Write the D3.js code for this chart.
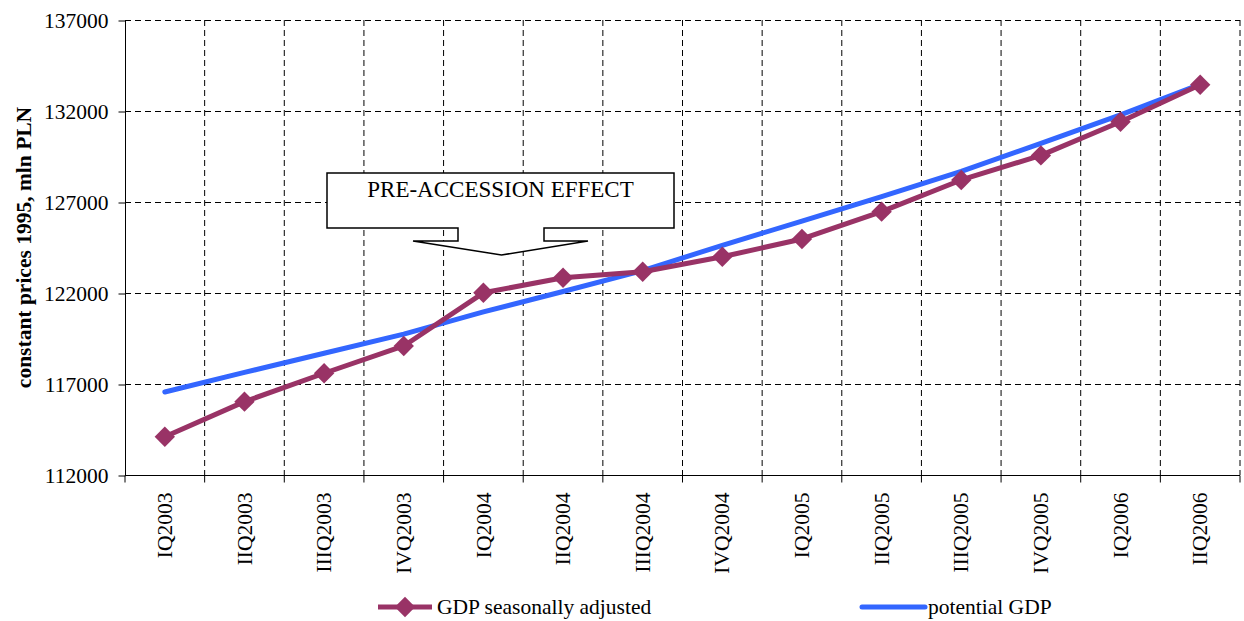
<!DOCTYPE html>
<html>
<head>
<meta charset="utf-8">
<script src="https://cdn.jsdelivr.net/npm/d3@7"></script>
<style>
  html, body { margin: 0; padding: 0; background: #fff; }
  svg { display: block; font-family: "Liberation Serif", "Times New Roman", serif; }
</style>
</head>
<body>
<svg id="chart" width="1244" height="621"></svg>
<script>
// Quarterly GDP, constant prices 1995, mln PLN
const quarters = ["IQ2003", "IIQ2003", "IIIQ2003", "IVQ2003",
                  "IQ2004", "IIQ2004", "IIIQ2004", "IVQ2004",
                  "IQ2005", "IIQ2005", "IIIQ2005", "IVQ2005",
                  "IQ2006", "IIQ2006"];
const gdpSA = [114100, 116030, 117590, 119090,
               122010, 122840, 123170, 123990,
               124970, 126470, 128210, 129560,
               131410, 133445];
const potentialGdp = [116560, 117640, 118690, 119740,
                      120960, 122080, 123230, 124620,
                      125950, 127290, 128680, 130220,
                      131790, 133460];
const yTicks = [112000, 117000, 122000, 127000, 132000, 137000];
const seriesNames = ["GDP seasonally adjusted", "potential GDP"];
const calloutText = "PRE-ACCESSION EFFECT";
const yTitle = "constant prices 1995, mln PLN";

const colGdp = "#993366";
const colPot = "#3366ff";
const fontSize = 21.5;

const svg = d3.select("#chart");
const plot = { left: 125, right: 1240, top: 20, bottom: 475 };

const x = d3.scaleBand().domain(quarters).range([plot.left, plot.right]).padding(0);
const y = d3.scaleLinear().domain([112000, 137000]).range([plot.bottom, plot.top]);
const cx = q => x(q) + x.bandwidth() / 2;

// Dashed grid: horizontal at each value tick, vertical at each category boundary
const grid = svg.append("g").attr("stroke", "#000").attr("stroke-width", 1)
  .attr("stroke-dasharray", "6,4").attr("fill", "none");
yTicks.filter(v => v > 112000).forEach(v => {
  grid.append("line").attr("x1", plot.left).attr("x2", plot.right)
    .attr("y1", Math.round(y(v)) + 0.5).attr("y2", Math.round(y(v)) + 0.5);
});
quarters.forEach(q => {
  const xb = x(q) + x.bandwidth();
  grid.append("line").attr("x1", xb).attr("x2", xb)
    .attr("y1", plot.top).attr("y2", plot.bottom);
});

// Value axis
const yAxis = d3.axisLeft(y).tickValues(yTicks).tickSize(7).tickPadding(10)
  .tickFormat(d3.format("d"));
const gy = svg.append("g").attr("transform", `translate(${plot.left + 0.5},0.5)`).call(yAxis);
gy.select(".domain").attr("stroke", "#000").attr("d", `M0,${plot.top}V${plot.bottom}`);
gy.selectAll(".tick line").attr("stroke", "#000");
gy.selectAll(".tick text").attr("font-size", fontSize).attr("fill", "#000")
  .attr("font-family", "Liberation Serif");

// Category axis with ticks on band boundaries
const gx = svg.append("g").attr("transform", `translate(0,${plot.bottom + 0.5})`);
gx.append("line").attr("x1", plot.left).attr("x2", plot.right)
  .attr("stroke", "#000");
const boundaries = [plot.left].concat(quarters.map(q => x(q) + x.bandwidth()));
gx.selectAll("line.tk").data(boundaries).join("line").attr("class", "tk")
  .attr("x1", d => d).attr("x2", d => d).attr("y1", 0).attr("y2", 7)
  .attr("stroke", "#000");
gx.selectAll("text").data(quarters).join("text")
  .attr("transform", d => `translate(${cx(d)},17) rotate(-90)`)
  .attr("text-anchor", "end").attr("dy", "0.33em")
  .attr("font-size", fontSize).text(d => d);

// Axis title
svg.append("text")
  .attr("transform", `translate(24,${(plot.top + plot.bottom) / 2}) rotate(-90)`)
  .attr("text-anchor", "middle").attr("dy", "0.33em")
  .attr("font-size", fontSize).attr("font-weight", "bold").text(yTitle);

// Series lines
const line = d3.line().x((d, i) => cx(quarters[i])).y(d => y(d));
svg.append("path").datum(potentialGdp).attr("d", line)
  .attr("fill", "none").attr("stroke", colPot).attr("stroke-width", 5)
  .attr("stroke-linecap", "round").attr("stroke-linejoin", "round");
svg.append("path").datum(gdpSA).attr("d", line)
  .attr("fill", "none").attr("stroke", colGdp).attr("stroke-width", 5)
  .attr("stroke-linejoin", "round");

const diamond = d3.symbol().type(d3.symbolDiamond2).size(265);
svg.append("g").selectAll("path").data(gdpSA).join("path")
  .attr("d", diamond)
  .attr("transform", (d, i) => `translate(${cx(quarters[i])},${y(d)}) rotate(0)`)
  .attr("fill", colGdp);

// Down-arrow callout
const box = { x0: 327, x1: 674, y0: 173, y1: 228 };
const notch = { l: 458, r: 544, wingY: 241, wl: 413, wr: 588, tipX: 501.5, tipY: 255 };
const callout = d3.path();
callout.moveTo(box.x0, box.y0);
callout.lineTo(box.x1, box.y0);
callout.lineTo(box.x1, box.y1);
callout.lineTo(notch.r, box.y1);
callout.lineTo(notch.r, notch.wingY);
callout.lineTo(notch.wr, notch.wingY);
callout.lineTo(notch.tipX, notch.tipY);
callout.lineTo(notch.wl, notch.wingY);
callout.lineTo(notch.l, notch.wingY);
callout.lineTo(notch.l, box.y1);
callout.lineTo(box.x0, box.y1);
callout.closePath();
svg.append("path").attr("d", callout.toString())
  .attr("fill", "#fff").attr("stroke", "#000").attr("stroke-width", 1.5)
  .attr("stroke-linejoin", "miter");
svg.append("text").attr("x", (box.x0 + box.x1) / 2).attr("y", 197)
  .attr("text-anchor", "middle").attr("font-size", 23).text(calloutText);

// Legend
const lg = svg.append("g").attr("font-size", fontSize);
const legY = 607;
lg.append("line").attr("x1", 378).attr("x2", 432).attr("y1", legY).attr("y2", legY)
  .attr("stroke", colGdp).attr("stroke-width", 5);
lg.append("path").attr("d", diamond).attr("transform", `translate(405,${legY})`)
  .attr("fill", colGdp);
lg.append("text").attr("x", 437).attr("y", legY).attr("dy", "0.33em").text(seriesNames[0]);
lg.append("line").attr("x1", 862).attr("x2", 925).attr("y1", legY).attr("y2", legY)
  .attr("stroke", colPot).attr("stroke-width", 5).attr("stroke-linecap", "round");
lg.append("text").attr("x", 928).attr("y", legY).attr("dy", "0.33em").text(seriesNames[1]);
</script>
</body>
</html>
